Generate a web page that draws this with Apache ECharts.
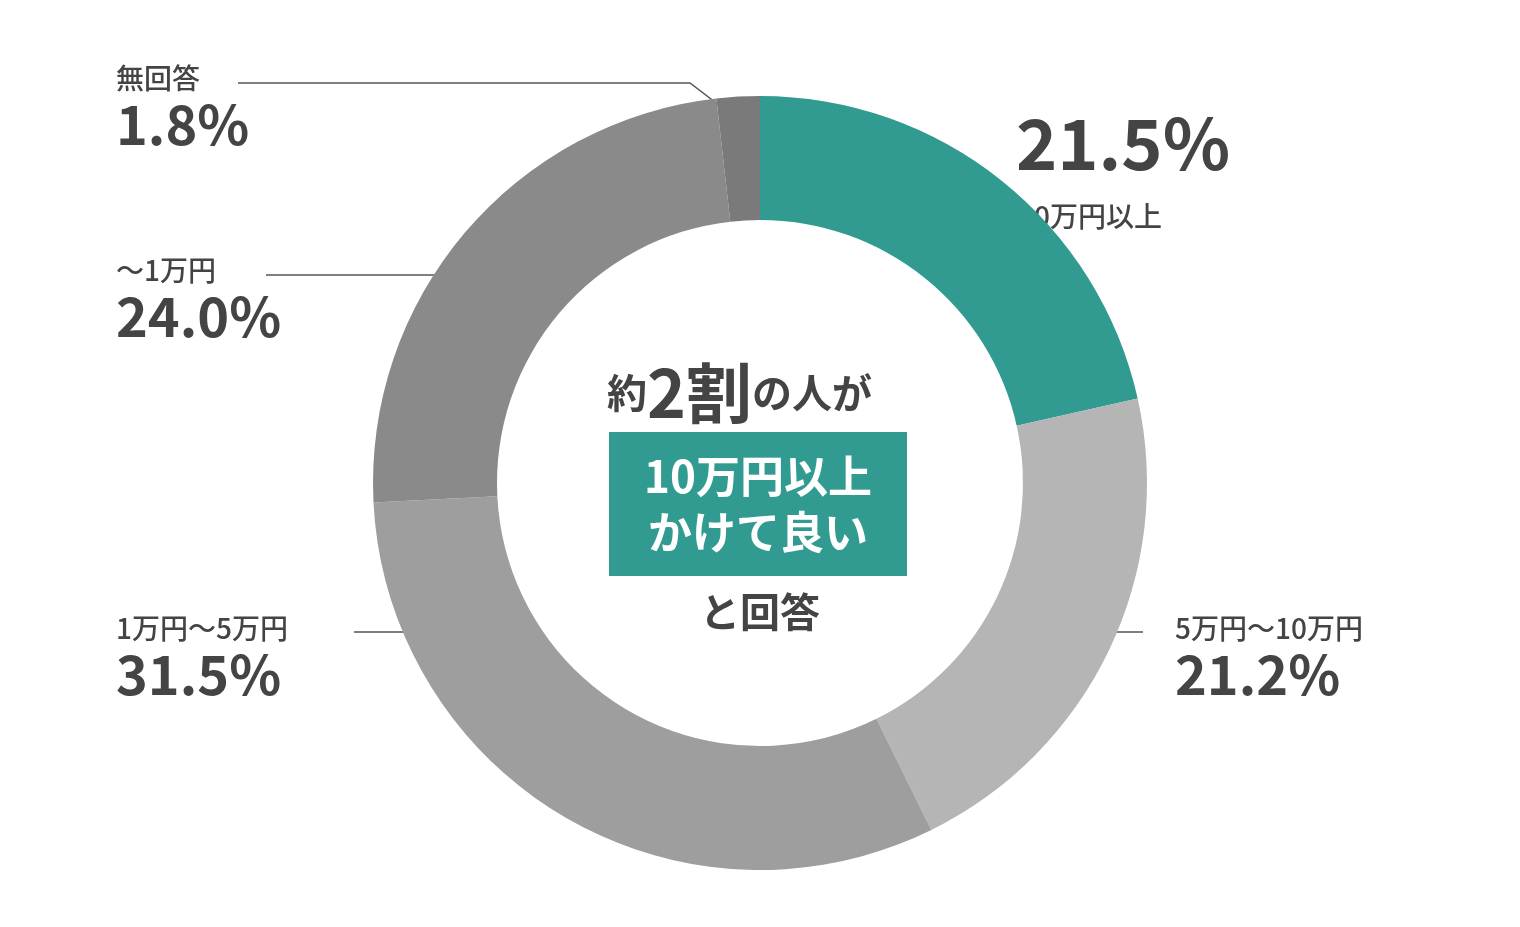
<!DOCTYPE html>
<html><head><meta charset="utf-8">
<script src="https://cdn.jsdelivr.net/npm/echarts@6/dist/echarts.min.js"></script>
<style>html,body{margin:0;padding:0;background:#fff}#c{width:1520px;height:927px}</style>
</head><body><div id="c"></div>
<script>
const categories = ['10万円以上','5万円〜10万円','1万円〜5万円','〜1万円','無回答'];
const values = [21.5, 21.2, 31.5, 24.0, 1.8];
const colors = ['#319b92','#b5b5b5','#9e9e9e','#8a8a8a','#7a7a7a'];
const F = '"Noto Sans CJK JP","Noto Sans",sans-serif';
const chart = echarts.init(document.getElementById('c'));
const pct = i => values[i].toFixed(1) + '%';
function lbl(x, y, i, big) {
  return [
    {type:'text', left:x, top:y, style:{text:categories[i], font:'500 28px '+F, fill:'#444'}},
    {type:'text', left:x, top:y+33, style:{text:pct(i), font:'bold 54px '+F, fill:'#444'}}
  ];
}
const line = (pts) => ({type:'polyline', shape:{points:pts}, style:{stroke:'#555', lineWidth:1.5, fill:null}});
chart.setOption({
  animation:false,
  series:[{
    type:'pie', center:[760,483], radius:[263,387], startAngle:90, clockwise:true,
    label:{show:false}, labelLine:{show:false}, silent:true,
    data: categories.map((c,i)=>({name:c, value:values[i], itemStyle:{color:colors[i]}}))
  }],
  graphic:[
    ...lbl(116, 64, 4), ...lbl(116, 256, 3), ...lbl(116, 614, 2), ...lbl(1175, 614, 1),
    {type:'text', left:1016, top:108, style:{text:pct(0), font:'bold 70px '+F, fill:'#444'}},
    {type:'text', left:1016, top:200, style:{text:categories[0], font:'500 28px '+F, fill:'#444', stroke:'#fff', lineWidth:4}},
    line([[238,83],[690,83],[745,125]]),
    line([[266,275],[505,275]]),
    line([[354,632],[469,632]]),
    line([[1053,632],[1143,632]]),
    {type:'text', left:607, top:360, style:{rich:{a:{font:'bold 40px '+F, fill:'#444'}, b:{font:'bold 66px '+F, fill:'#444'}}, text:'{a|約}{b|2割}{a|の人が}'}},
    {type:'rect', shape:{x:609, y:432, width:298, height:144}, style:{fill:'#319b92'}},
    {type:'text', x:758, y:504, style:{text:'10万円以上\nかけて良い', font:'bold 44px '+F, fill:'#fff', align:'center', verticalAlign:'middle', lineHeight:56}},
    {type:'text', x:760, y:612, style:{text:'と回答', font:'bold 40px '+F, fill:'#444', align:'center', verticalAlign:'middle'}}
  ]
});
</script></body></html>
